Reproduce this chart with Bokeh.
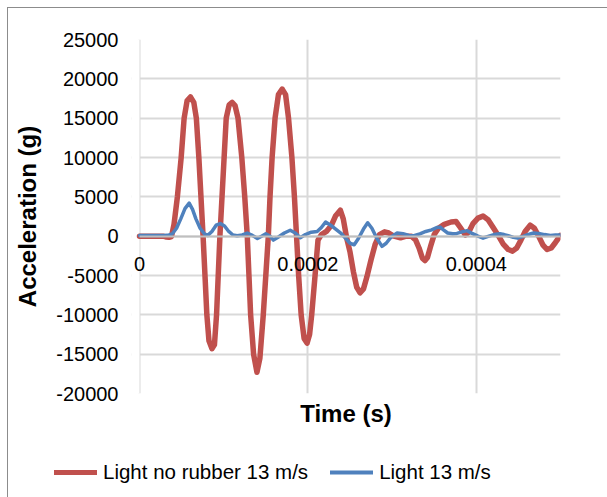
from bokeh.plotting import figure
from bokeh.layouts import column
from bokeh.models import Range1d, FixedTicker, LinearAxis, Legend, LegendItem, BoxAnnotation
from bokeh.embed import file_html
from bokeh.resources import INLINE

# ---- data (time in microseconds, acceleration in g) ----
red_time_us = [0, 10, 20, 28, 32, 35, 38,
               41, 45, 49.5, 53, 56.5, 60.5, 64.5, 67.5, 70.5, 73, 75.5,
               78, 80, 82.5, 86, 89, 91.5, 93.5, 95.5,
               98, 100.5, 103, 106.5, 110, 113.5, 117, 121.5, 125, 128,
               130, 132, 135.5, 139.5, 143, 147, 150, 153,
               155, 157.5, 161, 165, 169.5, 173.5, 177, 181, 184, 186.5,
               189, 192, 195.5, 199, 202, 204.5, 208.5, 212,
               216, 222, 228, 233, 238.5, 242, 246, 250, 254, 258, 262, 266, 270, 275, 280,
               285, 291, 296, 302, 310, 317, 323, 328, 332, 336, 339, 342, 346, 350,
               355, 362, 370, 376, 381, 387, 391, 396, 402, 408, 414, 420, 426, 432,
               438, 443, 448, 453, 458, 464, 469, 474, 479, 484, 489, 494, 500]
red_accel_g = [0, 0, 0, 0, -100, -150, -50,
               1500, 5000, 10000, 15000, 17200, 17700, 17000, 15000, 10000, 5000, 0,
               -5500, -10000, -13300, -14300, -13800, -10000, -5000, 0,
               5000, 10000, 15000, 16700, 17000, 16600, 15000, 10000, 5000, 0,
               -5000, -10000, -15000, -17300, -15500, -10000, -5000, 0,
               5000, 10000, 15000, 18000, 18700, 18000, 15000, 10000, 5000, 0,
               -5000, -10000, -13000, -13600, -12500, -10000, -5000, -500,
               200, 600, 1400, 2600, 3300, 2200, -200, -2000, -4500, -6500, -7200, -6700, -5200, -3000, -1000,
               200, 550, 400, 0, -200, 0, 0, -500, -1500, -2800, -3100, -2700, -1200, 200,
               1000, 1500, 1800, 1850, 1100, 150, 500, 1600, 2300, 2550, 2100, 1100, 100, -1000,
               -1700, -1900, -1500, -500, 600, 1400, 1000, 0, -1100, -1700, -1500, -800, 100]

blue_time_us = [0, 10, 20, 30, 35, 39, 44, 49, 54, 59, 63, 67, 72, 77, 81, 86, 91, 96, 101,
                106, 111, 116, 122, 128, 134, 140, 145, 150, 155, 159, 165, 172, 179, 185,
                191, 197, 204, 211, 216, 221, 227, 233, 239, 245, 250, 255, 260, 266, 271,
                276, 282, 288, 293, 299, 306, 313, 320, 326, 333, 340, 347, 353, 357, 361,
                366, 372, 377, 383, 389, 395, 402, 408, 415, 421, 428, 433, 438, 444, 449,
                455, 461, 468, 474, 481, 488, 494, 500]
blue_accel_g = [100, 100, 100, 100, 150, 300, 1000, 2200, 3500, 4200, 3400, 2200, 1000, 300, 100, 600, 1400, 1600, 1300,
                600, 150, 50, 150, 400, 100, -300, 0, 300, 0, -500, -100, 400, 750, 400,
                -200, 200, 500, 600, 1100, 1800, 1400, 900, 400, -300, -900, -1100, -300, 900, 1700,
                1000, -300, -1300, -900, -100, 400, 300, 100, 50, 300, 600, 800, 1100, 1150, 800,
                400, 300, 350, 550, 700, 350, 0, -250, 0, 200, 300, 200, 50, -150, -250,
                -50, 200, 400, 350, 200, 100, 150, 150]

series_names = ["Light no rubber 13 m/s", "Light 13 m/s"]
series_colors = ["#C0504D", "#4F81BD"]

x_ticks = [0, 0.0002, 0.0004]
x_tick_labels = ["0", "0.0002", "0.0004"]
y_ticks = [-20000, -15000, -10000, -5000, 0, 5000, 10000, 15000, 20000, 25000]
y_tick_labels = ["-20000", "-15000", "-10000", "-5000", "0", "5000", "10000", "15000", "20000", "25000"]

FONT = "Liberation Sans"

red_t = [t * 1e-6 for t in red_time_us]
blue_t = [t * 1e-6 for t in blue_time_us]

X_MIN, X_MAX = 0.0, 0.0005
pad = (8 / 421) * (X_MAX - X_MIN)   # room left of x = 0 so the "0" label is not clipped

p = figure(width=599, height=437, output_backend="svg", toolbar_location=None,
           x_range=Range1d(X_MIN - pad, X_MAX), y_range=Range1d(-20000, 25000),
           min_border_left=123, min_border_right=47, min_border_top=31, min_border_bottom=52)
p.frame_align = False
p.outline_line_color = None
p.background_fill_color = "white"
p.border_fill_color = "white"

p.xgrid.grid_line_color = "#d9d9d9"
p.xgrid.grid_line_width = 2
p.ygrid.grid_line_color = "#d9d9d9"
p.ygrid.grid_line_width = 2

# hide grid in the padding strip left of x = 0
p.add_layout(BoxAnnotation(right=X_MIN, fill_color="white", fill_alpha=1.0,
                           line_color=None, level="underlay"))

xa = p.xaxis[0]
xa.ticker = FixedTicker(ticks=x_ticks)
xa.major_label_overrides = dict(zip(x_ticks, x_tick_labels))
xa.fixed_location = 0
xa.bounds = (X_MIN, X_MAX)
xa.major_tick_line_color = None
xa.minor_tick_line_color = None
xa.major_tick_out = 0
xa.major_tick_in = 0
xa.axis_line_color = "#bfbfbf"
xa.axis_line_width = 2
xa.major_label_standoff = 21
xa.major_label_text_font = FONT
xa.major_label_text_font_size = "20px"
xa.major_label_text_color = "black"

ya = p.yaxis[0]
ya.ticker = FixedTicker(ticks=y_ticks)
ya.major_label_overrides = dict(zip(y_ticks, y_tick_labels))
ya.major_tick_line_color = None
ya.minor_tick_line_color = None
ya.major_tick_out = 0
ya.major_tick_in = 0
ya.axis_line_color = None
ya.major_label_standoff = 13
ya.major_label_text_font = FONT
ya.major_label_text_font_size = "20px"
ya.major_label_text_color = "black"
ya.axis_label = "Acceleration (g)"
ya.axis_label_standoff = 12
ya.axis_label_text_font = FONT
ya.axis_label_text_font_size = "24px"
ya.axis_label_text_font_style = "bold"
ya.axis_label_text_color = "black"

xa2 = LinearAxis(ticker=FixedTicker(ticks=[]), axis_label="Time (s)",
                 axis_line_color=None, major_tick_line_color=None, minor_tick_line_color=None,
                 major_tick_out=0, major_tick_in=0, major_label_standoff=0,
                 axis_label_standoff=6, axis_label_text_font=FONT,
                 axis_label_text_font_size="24px", axis_label_text_font_style="bold",
                 axis_label_text_color="black")
p.add_layout(xa2, "below")

p.line(red_t, red_accel_g, line_color=series_colors[0], line_width=5.5,
       line_join="round", line_cap="round")
p.line(blue_t, blue_accel_g, line_color=series_colors[1], line_width=3.5,
       line_join="round", line_cap="round")

# ---- legend strip: same series, plotted outside this strip's view, only the legend shows ----
pl = figure(width=599, height=52, output_backend="svg", toolbar_location=None,
            x_range=Range1d(1, 2), y_range=Range1d(0, 1),
            x_axis_location=None, y_axis_location=None, min_border=0)
pl.frame_align = False
pl.xgrid.visible = False
pl.ygrid.visible = False
pl.outline_line_color = None
pl.background_fill_color = "white"
pl.border_fill_color = "white"
lr1 = pl.line(red_t, red_accel_g, line_color=series_colors[0], line_width=5, line_cap="round")
lr2 = pl.line(blue_t, blue_accel_g, line_color=series_colors[1], line_width=4, line_cap="round")
legend = Legend(items=[LegendItem(label=series_names[0], renderers=[lr1]),
                       LegendItem(label=series_names[1], renderers=[lr2])],
                orientation="horizontal", location=(46, 13),
                glyph_width=43, glyph_height=20, label_standoff=6, spacing=22,
                padding=0, margin=0, border_line_color=None, background_fill_alpha=0,
                label_text_font=FONT, label_text_font_size="20.5px", label_text_color="black")
pl.add_layout(legend, "center")

layout = column(p, pl, spacing=0)
layout.styles = {"margin-left": "7px", "margin-top": "7px",
                 "border-left": "1px solid #8c8c8c", "border-top": "1px solid #8c8c8c"}

open("out.html", "w").write(file_html(layout, INLINE))
